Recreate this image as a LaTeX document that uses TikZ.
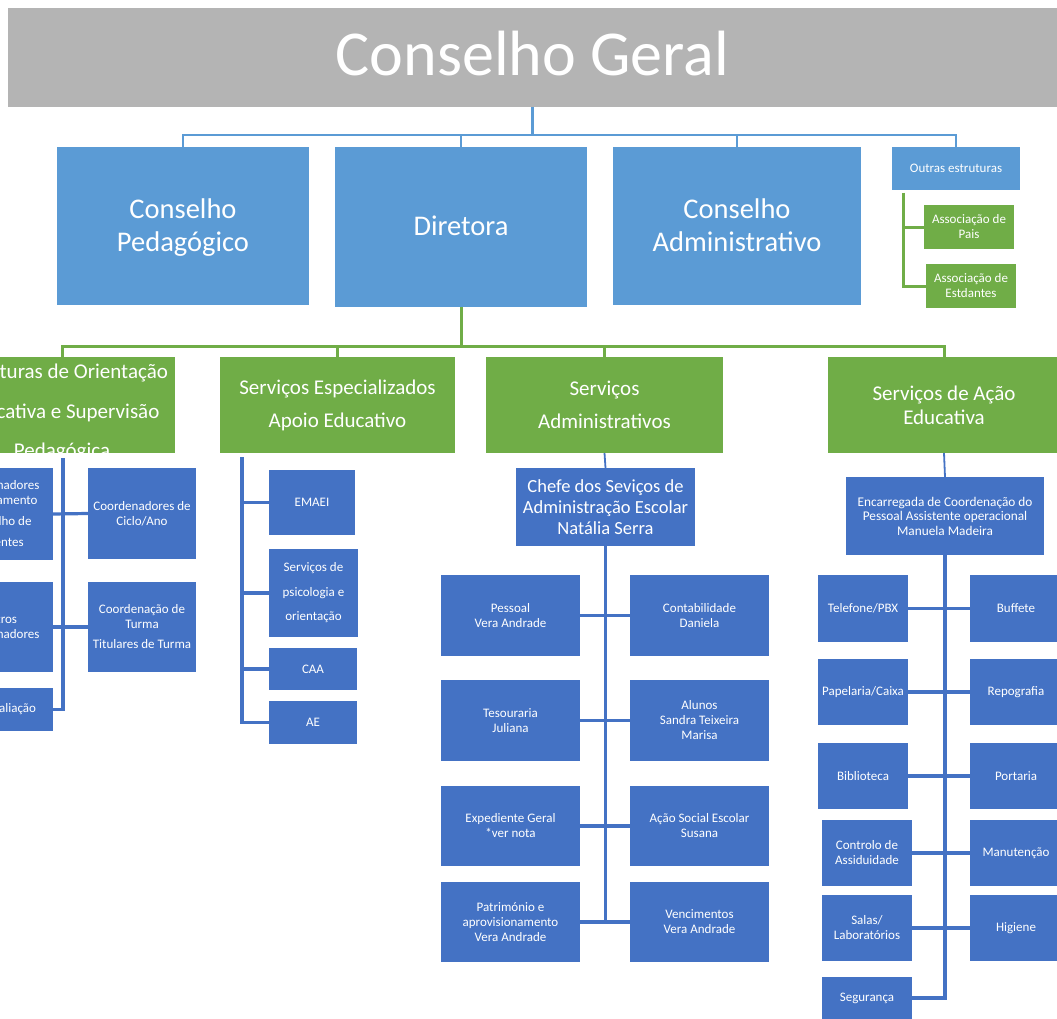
\documentclass[tikz,border=0pt]{standalone}
\usepackage{fontspec}
\setmainfont{Carlito}
\definecolor{gry}{HTML}{B4B4B4}
\definecolor{lblue}{HTML}{5B9BD5}
\definecolor{dblue}{HTML}{4472C4}
\definecolor{grn}{HTML}{70AD47}
\newcommand\BX[7]{\node[#2, minimum width={(#5-#3)*1pt}, minimum height={(#6-#4)*1pt}] (#1) at ({(#3+#5)/2},{(#4+#6)/2}) {#7};}
\tikzset{
  box/.style={inner sep=0pt, outer sep=0pt, text=white, align=center, anchor=center},
  gbox/.style={box, fill=gry},
  lbox/.style={box, fill=lblue},
  dbox/.style={box, fill=dblue},
  grbox/.style={box, fill=grn},
  ttl/.style={font=\fontsize{64}{70}\selectfont},
  big/.style={font=\fontsize{28.5}{33.5}\selectfont, text depth=2pt},
  mid/.style={font=\fontsize{21}{33}\selectfont},
  midt/.style={font=\fontsize{21}{24}\selectfont},
  chef/.style={font=\fontsize{18.5}{21}\selectfont},
  enc/.style={font=\fontsize{13.3}{14.5}\selectfont},
  sm/.style={font=\fontsize{13}{15}\selectfont},
  smw/.style={font=\fontsize{13}{24.5}\selectfont},
  lconn/.style={draw=lblue, line width=2.6pt},
  dconn/.style={draw=dblue, line width=3.2pt},
  gconn/.style={draw=grn, line width=3pt},
  stub/.style={draw=dblue, line width=1.8pt},
}
\begin{document}
\begin{tikzpicture}[x=1pt,y=-1pt]
\useasboundingbox (0,0) rectangle (1057,1019);
\clip (0,0) rectangle (1057,1019);
% top
\BX{cg}{gbox}{8}{8}{1057}{107}{}
\node[box, ttl] (cgt) at (532.5,54) {Conselho Geral};
% level 2
\BX{cp}{lbox,big}{57}{147}{309}{305}{Conselho\\Pedagógico}
\BX{dir}{lbox,big}{335}{147}{587}{307}{Diretora}
\BX{ca}{lbox,big}{613}{147}{861}{305}{Conselho\\Administrativo}
\BX{oe}{lbox,sm}{892}{147}{1020}{190}{Outras estruturas}
\BX{ap}{grbox,sm}{924}{205}{1014}{249}{Associação de\\Pais}
\BX{ae}{grbox,sm}{926}{264}{1016}{308}{Associação de\\Estdantes}
\coordinate (tbar) at (0,135);
\draw[lconn] (cg.south) -- (cg.south |- tbar);
\draw[lconn] (cp.north) -- (cp.north |- tbar) -- (oe.north |- tbar) -- (oe.north);
\draw[lconn] (dir.north) -- (dir.north |- tbar);
\draw[lconn] (ca.north) -- (ca.north |- tbar);
\coordinate (ov) at (903,193);
\draw[gconn] (ov) |- (ap.west);
\draw[gconn] (ov) |- (ae.west);
% level 3
\BX{eo}{grbox}{-51}{357}{175}{453}{}
\BX{se}{grbox,mid}{220}{357}{455}{453}{Serviços Especializados\\Apoio Educativo}
\BX{sa}{grbox,mid}{486}{357}{723}{453}{Serviços\\Administrativos}
\BX{sae}{grbox,midt}{828}{357}{1060}{453}{Serviços de Ação\\Educativa}
\begin{scope}
\clip (eo.south west) rectangle (eo.north east);
\node[box, font=\fontsize{21}{39.5}\selectfont] (eot) at (62,413) {Estruturas de Orientação\\Educativa e Supervisão\\Pedagógica};
\end{scope}
\coordinate (gbar) at (0,346);
\draw[gconn] (dir.south) -- (dir.south |- gbar);
\draw[gconn] (eo.north) -- (eo.north |- gbar) -- (sae.north |- gbar) -- (sae.north);
\draw[gconn] (se.north) -- (se.north |- gbar);
\draw[gconn] (sa.north) -- (sa.north |- gbar);
% Estruturas column
\BX{l1}{dbox,sm}{-55}{468}{53}{560}{Coordenadores\\Departamento\\[5.5pt]Conselho de\\[6.5pt]Docentes}
\BX{r1}{dbox,sm}{88}{468}{196}{559}{Coordenadores de\\Ciclo/Ano}
\BX{l2}{dbox,sm}{-55}{582}{53}{672}{Outros\\Coordenadores}
\BX{r2}{dbox,sm}{88}{582}{196}{672}{Coordenação de\\Turma\\[5pt]Titulares de Turma}
\BX{l3}{dbox,sm}{-55}{688}{53}{731}{Autoavaliação}
\coordinate (ev) at (63,458);
\draw[dconn] (ev) |- (l3.east);
\draw[dconn] (l1.east) -- (r1.west);
\draw[dconn] (l2.east) -- (r2.west);
% Servicos Especializados column
\BX{em}{dbox,sm}{269}{470}{355}{535}{EMAEI}
\BX{spo}{dbox,smw}{269}{549}{358}{637}{Serviços de\\psicologia e\\orientação}
\BX{caa}{dbox,sm}{269}{648}{357}{690}{CAA}
\BX{aeb}{dbox,sm}{269}{701}{357}{744}{AE}
\coordinate (sv) at (242,457);
\draw[dconn] (sv) |- (aeb.west);
\draw[dconn] (sv |- em.west) -- (em.west);
\draw[dconn] (sv |- spo.west) -- (spo.west);
\draw[dconn] (sv |- caa.west) -- (caa.west);
% Servicos Administrativos column
\BX{ch}{dbox,chef}{516}{468}{695}{546}{Chefe dos Seviços de\\Administração Escolar\\Natália Serra}
\BX{p1}{dbox,sm}{441}{575}{580}{656}{Pessoal\\Vera Andrade}
\BX{q1}{dbox,sm}{630}{575}{769}{656}{Contabilidade\\Daniela}
\BX{p2}{dbox,sm}{441}{680}{580}{761}{Tesouraria\\Juliana}
\BX{q2}{dbox,sm}{630}{680}{769}{761}{Alunos\\Sandra Teixeira\\Marisa}
\BX{p3}{dbox,sm}{441}{786}{580}{866}{Expediente Geral\\*ver nota}
\BX{q3}{dbox,sm}{630}{786}{769}{866}{Ação Social Escolar\\Susana}
\BX{p4}{dbox,sm}{441}{882}{580}{962}{Património e\\aprovisionamento\\Vera Andrade}
\BX{q4}{dbox,sm}{630}{882}{769}{962}{Vencimentos\\Vera Andrade}
\draw[stub] (sa.south) -- (ch.north);
\draw[dconn] (ch.south) -- (ch.south |- p4.east);
\draw[dconn] (p1.east) -- (q1.west);
\draw[dconn] (p2.east) -- (q2.west);
\draw[dconn] (p3.east) -- (q3.west);
\draw[dconn] (p4.east) -- (q4.west);
% Servicos de Acao Educativa column
\BX{enc}{dbox,enc}{846}{477}{1044}{555}{Encarregada de Coordenação do\\Pessoal Assistente operacional\\Manuela Madeira}
\BX{a1}{dbox,sm}{818}{575}{908}{642}{Telefone/PBX}
\BX{a2}{dbox,sm}{818}{659}{908}{725}{Papelaria/Caixa}
\BX{a3}{dbox,sm}{818}{743}{908}{809}{Biblioteca}
\BX{a4}{dbox,sm}{822}{820}{912}{886}{Controlo de\\Assiduidade}
\BX{a5}{dbox,sm}{822}{895}{912}{961}{Salas/\\Laboratórios}
\BX{a6}{dbox,sm}{822}{977}{912}{1019}{Segurança}
\BX{b1}{dbox,sm}{970}{575}{1062}{642}{Buffete}
\BX{b2}{dbox,sm}{970}{659}{1062}{725}{Repografia}
\BX{b3}{dbox,sm}{970}{743}{1062}{809}{Portaria}
\BX{b4}{dbox,sm}{970}{820}{1062}{886}{Manutenção}
\BX{b5}{dbox,sm}{970}{895}{1062}{961}{Higiene}
\draw[stub] (sae.south) -- (enc.north);
\draw[dconn] (enc.south) -- (enc.south |- a6.east) -- (a6.east);
\draw[dconn] (a1.east) -- (b1.west);
\draw[dconn] (a2.east) -- (b2.west);
\draw[dconn] (a3.east) -- (b3.west);
\draw[dconn] (a4.east) -- (b4.west);
\draw[dconn] (a5.east) -- (b5.west);
\end{tikzpicture}
\end{document}
